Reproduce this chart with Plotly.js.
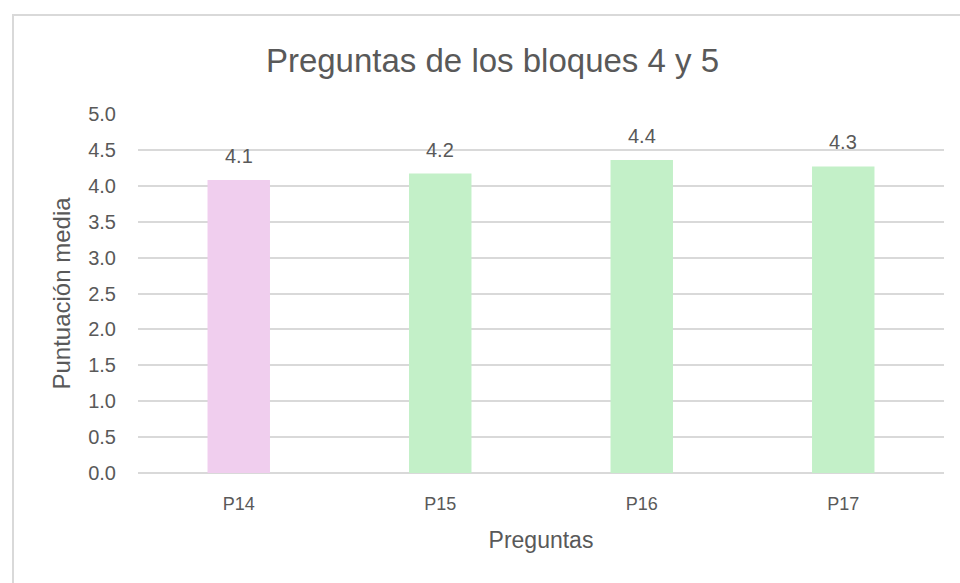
<!DOCTYPE html>
<html>
<head>
<meta charset="utf-8">
<script src="https://cdn.plot.ly/plotly-3.0.1.min.js"></script>
<style>
  html, body { margin: 0; padding: 0; background: #fff; }
  #chart { width: 960px; height: 583px; }
  #frame { position: absolute; left: 12px; top: 14px; width: 1000px; height: 620px;
           border: 2px solid #d9d9d9; pointer-events: none; box-sizing: border-box; }
</style>
</head>
<body>
<div id="chart"></div>
<div id="frame"></div>
<script>
const categories = ["P14", "P15", "P16", "P17"];
const values = [4.08, 4.17, 4.36, 4.27];
const labels = ["4.1", "4.2", "4.4", "4.3"];
const barColors = ["#F0CEEE", "#C3F0C8", "#C3F0C8", "#C3F0C8"];
const yTicks = [0, 0.5, 1, 1.5, 2, 2.5, 3, 3.5, 4, 4.5, 5];
const yTickText = ["0.0","0.5","1.0","1.5","2.0","2.5","3.0","3.5","4.0","4.5","5.0"];

const textColor = "#595959";
const mainFont = "Liberation Sans, Arial, sans-serif";

const trace = {
  type: "bar",
  x: categories,
  y: values,
  marker: { color: barColors },
  hoverinfo: "x+y"
};

const annotations = categories.map((c, i) => ({
  x: c, y: values[i], xref: "x", yref: "y",
  text: labels[i], showarrow: false,
  yshift: 24,
  font: { family: mainFont, size: 20, color: textColor }
}));

const layout = {
  width: 960, height: 583,
  margin: { l: 138, r: 16, t: 114, b: 110 },
  paper_bgcolor: "#ffffff",
  plot_bgcolor: "#ffffff",
  bargap: 0.69,
  showlegend: false,
  title: {
    text: "Preguntas de los bloques 4 y 5",
    x: 0.513, xanchor: "center", xref: "container",
    y: 0.897, yanchor: "middle", yref: "container",
    font: { family: mainFont, size: 33, color: textColor }
  },
  xaxis: {
    type: "category",
    tickfont: { family: mainFont, size: 18, color: textColor },
    showgrid: false,
    showline: false,
    ticks: "outside", ticklen: 14, tickcolor: "rgba(0,0,0,0)",
    title: { text: "Preguntas", standoff: 19,
             font: { family: mainFont, size: 23, color: textColor } }
  },
  yaxis: {
    range: [0, 5],
    tickvals: yTicks, ticktext: yTickText,
    tickfont: { family: mainFont, size: 20, color: textColor },
    showgrid: true, gridcolor: "#d9d9d9", gridwidth: 2,
    zeroline: true, zerolinecolor: "#d9d9d9", zerolinewidth: 2,
    showline: false,
    ticks: "outside", ticklen: 17, tickcolor: "rgba(0,0,0,0)",
    title: { text: "Puntuación media", standoff: 10,
             font: { family: mainFont, size: 24, color: textColor } }
  },
  annotations: annotations
};

Plotly.newPlot("chart", [trace], layout, { displayModeBar: false, staticPlot: true });
</script>
</body>
</html>
